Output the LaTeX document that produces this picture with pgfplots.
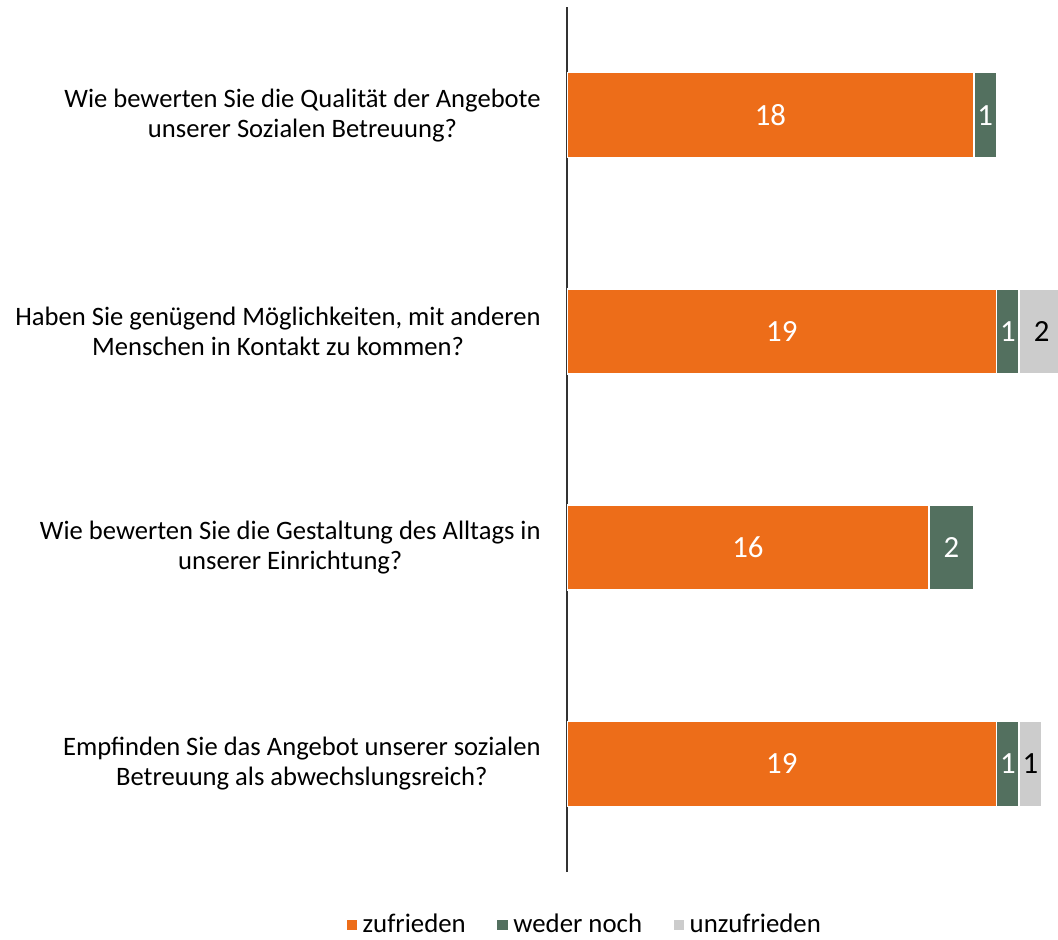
\documentclass[border=0pt]{standalone}
\usepackage{pgfplots}
\pgfplotsset{compat=1.18}
\usepackage{fontspec}
\setmainfont{Carlito}
\definecolor{cOrange}{HTML}{ED6D19}
\definecolor{cGreen}{HTML}{53705F}
\definecolor{cGray}{HTML}{CCCCCC}
\begin{document}
\begin{tikzpicture}
\useasboundingbox (0,0) rectangle (529pt,469.5pt);
\begin{axis}[
  at={(283.5pt,33.5pt)}, anchor=south west,
  scale only axis, width=245.5pt, height=432.5pt,
  xbar stacked, bar width=42.5pt,
  xmin=0, xmax=21.72, ymin=0.5, ymax=4.5,
  axis x line=none, axis y line=left,
  y axis line style={-, draw=black!80, line width=0.7pt},
  ytick={1,2,3,4},
  yticklabels={{Empfinden Sie das Angebot unserer sozialen\\Betreuung als abwechslungsreich?},
               {Wie bewerten Sie die Gestaltung des Alltags in\\unserer Einrichtung?},
               {Haben Sie genügend Möglichkeiten, mit anderen\\Menschen in Kontakt zu kommen?},
               {Wie bewerten Sie die Qualität der Angebote\\unserer Sozialen Betreuung?}},
  major tick length=0pt, ytick style={draw=none},
  yticklabel style={anchor=east, align=center, inner sep=0pt, xshift=-13pt,
    font=\fontsize{13.3}{15}\selectfont},
  legend columns=3,
  legend style={at={(0.0367,-0.0613)}, anchor=center, draw=none, fill=none,
    font=\fontsize{13.4}{15}\selectfont,
    /tikz/every even column/.append style={column sep=13pt}},
  legend image code/.code={\fill[#1] (0pt,-3pt) rectangle (6pt,3pt);},
  legend cell align=left,
]
\addplot[fill=cOrange, draw=white, line width=0.8pt] coordinates {(19,1) (16,2) (19,3) (18,4)};
\addplot[fill=cGreen, draw=white, line width=0.8pt] coordinates {(1,1) (2,2) (1,3) (1,4)};
\addplot[fill=cGray, draw=white, line width=0.8pt] coordinates {(1,1) (0,2) (2,3) (0,4)};
\legend{zufrieden, weder noch, unzufrieden}
\end{axis}
\begin{axis}[
  at={(283.5pt,33.5pt)}, anchor=south west,
  scale only axis, width=245.5pt, height=432.5pt,
  xmin=0, xmax=21.72, ymin=0.5, ymax=4.5,
  hide axis, clip=false,
  nodes near coords, nodes near coords align=center,
  point meta=explicit symbolic,
]
\addplot[only marks, mark=none, nodes near coords style={text=white, font=\fontsize{15.4}{17}\selectfont}]
  coordinates {(9.5,1)[19] (19.5,1)[1] (8,2)[16] (17,2)[2] (9.5,3)[19] (19.5,3)[1] (9,4)[18] (18.5,4)[1]};
\addplot[only marks, mark=none, nodes near coords style={text=black, font=\fontsize{15.4}{17}\selectfont}]
  coordinates {(20.5,1)[1] (21,3)[2]};
\end{axis}
\end{tikzpicture}
\end{document}
